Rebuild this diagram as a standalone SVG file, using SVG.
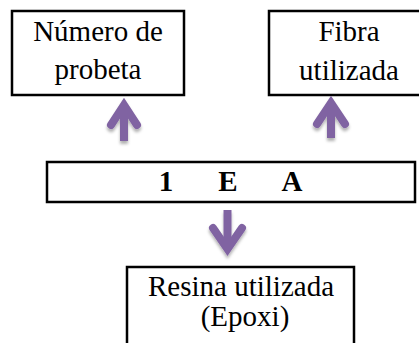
<svg xmlns="http://www.w3.org/2000/svg" width="419" height="343" viewBox="0 0 419 343">
<defs>
<style>
.box{fill:#fff;stroke:#000;stroke-width:2.5}
.t{font-family:"Liberation Serif","Times New Roman",serif;font-size:29px;fill:#000;text-anchor:middle}
.b{font-family:"Liberation Serif","Times New Roman",serif;font-size:29px;font-weight:bold;fill:#000;text-anchor:middle}
.head{fill:none;stroke:#8064a2;stroke-width:8;stroke-linecap:round;stroke-linejoin:miter;stroke-miterlimit:10}
.shaft{fill:none;stroke:#8064a2;stroke-width:8}
</style>
<filter id="sh" x="-50%" y="-50%" width="200%" height="200%">
<feDropShadow dx="0" dy="3" stdDeviation="1.5" flood-color="#000" flood-opacity="0.3"/>
</filter>
</defs>
<rect width="419" height="343" fill="#fff"/>
<g id="numero">
<rect class="box" x="12" y="11" width="172" height="84"/>
<text class="t" x="98" y="41">Número de</text>
<text class="t" x="98" y="79">probeta</text>
</g>
<g id="fibra">
<rect class="box" x="269" y="11" width="160" height="84"/>
<text class="t" x="349" y="41">Fibra</text>
<text class="t" x="349" y="80">utilizada</text>
</g>
<g id="codigo">
<rect class="box" x="47" y="162" width="368" height="40"/>
<text class="b" x="166" y="191">1</text>
<text class="b" x="228" y="191">E</text>
<text class="b" x="292" y="191">A</text>
</g>
<g id="resina">
<rect class="box" x="127" y="267" width="227" height="90"/>
<text class="t" x="241" y="296">Resina utilizada</text>
<text class="t" x="245" y="326">(Epoxi)</text>
</g>
<g id="connectors" filter="url(#sh)">
<line class="shaft" x1="124" y1="110" x2="124" y2="141"/>
<polyline class="head" points="111,125 124,105 137,125"/>
<line class="shaft" x1="331" y1="108" x2="331" y2="138"/>
<polyline class="head" points="317,124 331,103 345,124"/>
<line class="shaft" x1="227.5" y1="210" x2="227.5" y2="244"/>
<polyline class="head" points="213,228 227.5,249 242,228"/>
</g>
</svg>
